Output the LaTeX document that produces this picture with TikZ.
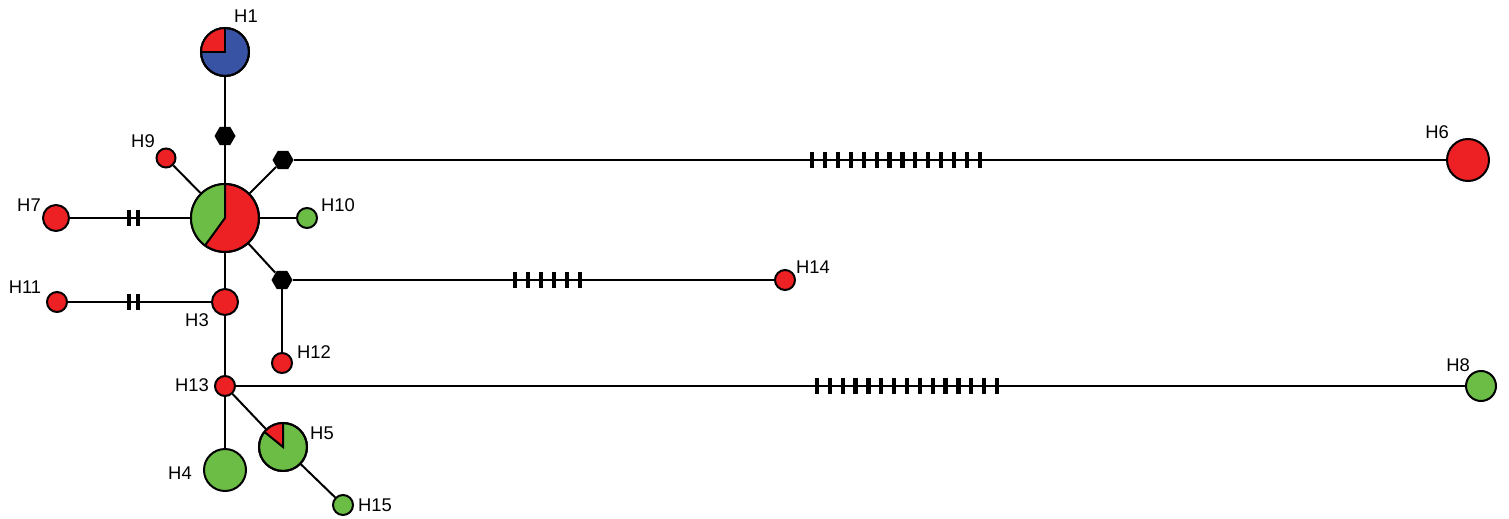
\documentclass[tikz,border=0pt]{standalone}
\usepackage{fontspec}
\setmainfont{Liberation Sans}
\usetikzlibrary{shapes.geometric,backgrounds}
\definecolor{hred}{HTML}{ED2024}
\definecolor{hgreen}{HTML}{6BBD45}
\definecolor{hblue}{HTML}{3953A4}
\begin{document}
\begin{tikzpicture}[x=0.5pt,y=-0.5pt,
  hap/.style={circle,draw=black,line width=1pt,inner sep=0pt,minimum size=#1},
  hexa/.style={regular polygon,regular polygon sides=6,fill=black,inner sep=0pt,minimum size=10.5pt},
  lab/.style={inner sep=0pt,font=\fontsize{9.2pt}{10pt}\selectfont},
  link/.style={line width=1pt},
  tk/.style={line width=2.1pt},
  wedge/.style={line width=1pt}]
\useasboundingbox (0,0) rectangle (1509,519);
% haplotype nodes
\node[hap=24pt,fill=hblue]  (h1)  at (225,52)  {};
\node[hap=34pt,fill=hred]   (h2)  at (225,218) {};
\node[hap=13pt,fill=hred]   (h3)  at (225,302) {};
\node[hap=21pt,fill=hgreen] (h4)  at (225,470) {};
\node[hap=24pt,fill=hgreen] (h5)  at (283,447) {};
\node[hap=21pt,fill=hred]   (h6)  at (1468,160) {};
\node[hap=13pt,fill=hred]   (h7)  at (56,218)  {};
\node[hap=15pt,fill=hgreen] (h8)  at (1481,386) {};
\node[hap=9.5pt,fill=hred]  (h9)  at (166,158) {};
\node[hap=10pt,fill=hgreen] (h10) at (307,218) {};
\node[hap=10pt,fill=hred]   (h11) at (57,302)  {};
\node[hap=10pt,fill=hred]   (h12) at (282,363) {};
\node[hap=10pt,fill=hred]   (h13) at (225,386) {};
\node[hap=10pt,fill=hred]   (h14) at (785,280) {};
\node[hap=10pt,fill=hgreen] (h15) at (343,505) {};
% median vectors
\node[hexa] (ma) at (225,136) {};
\node[hexa] (mb) at (283,160) {};
\node[hexa] (mc) at (282,280) {};
% pie sectors
\fill[hred] (h1.center) -- ++(90:12pt) arc[start angle=90,end angle=180,radius=12pt] -- cycle;
\draw[wedge] (h1.center) ++(90:12pt) -- (h1.center) -- ++(180:12pt);
\draw[wedge] (h1.center) circle[radius=12pt];
\fill[hgreen] (h2.center) -- ++(90:17pt) arc[start angle=90,end angle=234,radius=17pt] -- cycle;
\draw[wedge] (h2.center) ++(90:17pt) -- (h2.center) -- ++(234:17pt);
\draw[wedge] (h2.center) circle[radius=17pt];
\fill[hred] (h5.center) -- ++(90:12pt) arc[start angle=90,end angle=141,radius=12pt] -- cycle;
\draw[wedge] (h5.center) ++(90:12pt) -- (h5.center) -- ++(141:12pt);
\draw[wedge] (h5.center) circle[radius=12pt];
% connectors
\begin{scope}[on background layer]
\draw[link] (h1) -- (ma);
\draw[link] (ma) -- (h2);
\draw[link] (h2) -- (h9);
\draw[link] (h2) -- (mb);
\draw[link] (mb) -- (h6);
\draw[link] (h2) -- (h10);
\draw[link] (h2) -- (h7);
\draw[link] (h2) -- (h3);
\draw[link] (h2) -- (mc);
\draw[link] (mc) -- (h14);
\draw[link] (mc) -- (h12);
\draw[link] (h3) -- (h11);
\draw[link] (h3) -- (h13);
\draw[link] (h13) -- (h8);
\draw[link] (h13) -- (h4);
\draw[link] (h13) -- (h5);
\draw[link] (h5) -- (h15);
\end{scope}
% mutation ticks
\foreach \i in {0,...,13}{\draw[tk] ({812+\i*12.923},152) -- ++(0,16);}
\foreach \i in {0,...,5}{\draw[tk] ({515+\i*13},272) -- ++(0,16);}
\foreach \i in {0,...,14}{\draw[tk] ({817+\i*12.857},378) -- ++(0,16);}
\foreach \xx in {129,138}{\draw[tk] (\xx,210) -- ++(0,16);}
\foreach \xx in {129,138}{\draw[tk] (\xx,294) -- ++(0,16);}
% labels
\node[lab] (l1)  at (246,16)   {H1};
\node[lab] (l3)  at (197,320)  {H3};
\node[lab] (l4)  at (180,473)  {H4};
\node[lab] (l5)  at (322,433)  {H5};
\node[lab] (l6)  at (1437,132) {H6};
\node[lab] (l7)  at (29,205)   {H7};
\node[lab] (l8)  at (1458,365) {H8};
\node[lab] (l9)  at (143,141)  {H9};
\node[lab] (l10) at (338,205)  {H10};
\node[lab] (l11) at (25,287)   {H11};
\node[lab] (l12) at (314,352)  {H12};
\node[lab] (l13) at (192,385)  {H13};
\node[lab] (l14) at (813,267)  {H14};
\node[lab] (l15) at (375,505)  {H15};
\end{tikzpicture}
\end{document}
